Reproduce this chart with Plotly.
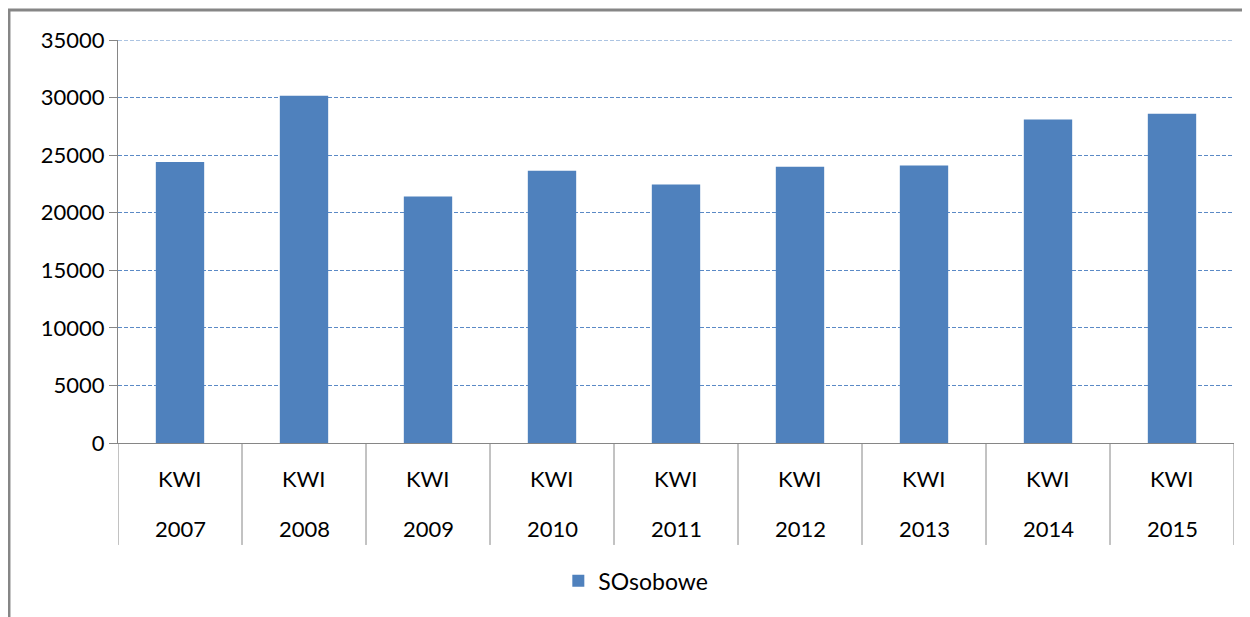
import plotly.graph_objects as go

# data
years = ["2007", "2008", "2009", "2010", "2011", "2012", "2013", "2014", "2015"]
groups = ["KWI"] * 9
sosobowe = [24400, 30150, 21400, 23650, 22450, 24000, 24100, 28100, 28600]
y_max = 35000

FONT = "Lato"
BAR = "#4F81BD"
AXIS = "#868686"
GRID = "#5B8AC6"
DASH = "4px,2px"

fig = go.Figure()
fig.add_trace(go.Bar(
    x=years,
    y=sosobowe,
    name="SOsobowe",
    marker=dict(color=BAR, line=dict(width=0)),
))

# two rows of category labels under the axis (x given as category index)
for i, (yr, grp) in enumerate(zip(years, groups)):
    fig.add_annotation(x=i, xref="x", y=-0.089, yref="paper", text=grp,
                       showarrow=False, yanchor="middle",
                       font=dict(family=FONT, size=22, color="black"))
    fig.add_annotation(x=i, xref="x", y=-0.213, yref="paper", text=yr,
                       showarrow=False, yanchor="middle",
                       font=dict(family=FONT, size=22, color="black"))

# vertical dividers between categories
for i in range(len(years) + 1):
    fig.add_shape(type="line", xref="x", yref="paper",
                  x0=i - 0.5, x1=i - 0.5, y0=0, y1=-0.253,
                  line=dict(color=AXIS, width=1))

# top gridline (plotly skips the one sitting on the range edge)
fig.add_shape(type="line", xref="paper", yref="y", x0=0, x1=1, y0=y_max, y1=y_max,
              line=dict(color=GRID, width=1, dash=DASH))

# outer chart frame
fig.add_shape(type="rect", xref="paper", yref="paper",
              x0=-0.0977, x1=1.2, y0=-0.6, y1=1.0744,
              line=dict(color=AXIS, width=3), layer="below")

fig.update_layout(
    width=1250, height=617,
    margin=dict(l=110, r=24, t=32, b=182),
    paper_bgcolor="white", plot_bgcolor="white",
    font=dict(family=FONT, size=22, color="black"),
    bargap=0.61,
    showlegend=True,
    legend=dict(orientation="h", x=0.464, xanchor="center", y=-0.342, yanchor="middle",
                font=dict(family=FONT, size=23, color="black")),
)

fig.update_yaxes(
    range=[0, y_max], dtick=5000, tickformat="d",
    showgrid=True, gridcolor=GRID, griddash=DASH, gridwidth=1,
    showline=True, linecolor=AXIS, linewidth=1,
    ticks="outside", ticklen=8, tickcolor=AXIS,
    zeroline=False, automargin=False,
    tickfont=dict(family=FONT, size=22),
)
fig.update_xaxes(
    type="category", range=[-0.5, len(years) - 0.5],
    showline=True, linecolor=AXIS, linewidth=1,
    ticks="", showgrid=False, showticklabels=False,
    automargin=False,
)

fig.write_html("out.html")
